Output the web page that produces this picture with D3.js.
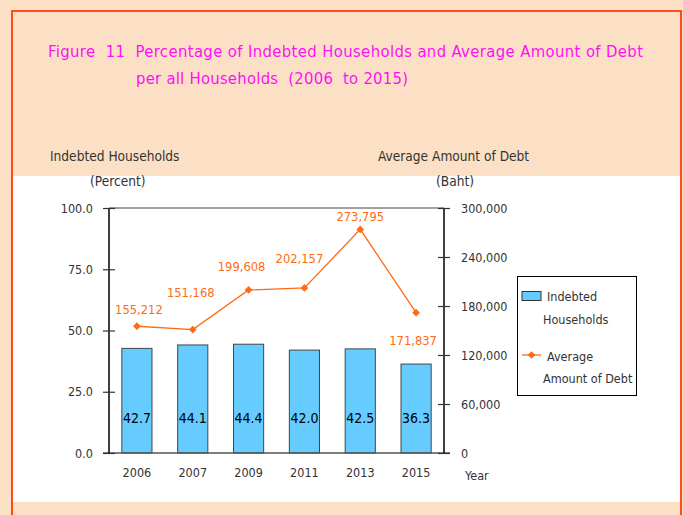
<!DOCTYPE html>
<html><head><meta charset="utf-8">
<script src="https://cdn.jsdelivr.net/npm/d3@7"></script>
<style>
html,body{margin:0;padding:0;background:#FBE0C5;}
svg{display:block;}
text{font-family:"DejaVu Sans Condensed","DejaVu Sans",sans-serif;white-space:pre;}
</style></head>
<body>
<svg id="c" width="683" height="515"></svg>
<script>
const years = ["2006","2007","2009","2011","2013","2015"];
const households = [42.7, 44.1, 44.4, 42.0, 42.5, 36.3];
const debt = [155212, 151168, 199608, 202157, 273795, 171837];
const leftTicks = [0, 25, 50, 75, 100];
const rightTicks = [0, 60000, 120000, 180000, 240000, 300000];
const titleLines = ["Figure  11  Percentage of Indebted Households and Average Amount of Debt",
                    "per all Households  (2006  to 2015)"];
// label placement offsets (dx, dy) for the debt labels, relative to their point
const debtLabelOffsets = [[2,-17],[-2,-37],[-7,-23],[-5,-29],[0,-13],[-3,28]];

const svg = d3.select("#c");
// backgrounds
svg.append("rect").attr("x",0).attr("y",0).attr("width",683).attr("height",515).attr("fill","#FBE0C5");
svg.append("rect").attr("x",13).attr("y",176).attr("width",667).attr("height",326).attr("fill","#FFFFFF");
svg.append("rect").attr("x",12).attr("y",11).attr("width",669).attr("height",520)
  .attr("fill","none").attr("stroke","#FF4A1A").attr("stroke-width",2);

// title
svg.append("text").attr("x",48).attr("y",57).attr("fill","#FF10F0").attr("font-size",16.5)
  .attr("textLength",595).attr("lengthAdjust","spacing").text(titleLines[0]);
svg.append("text").attr("x",136).attr("y",84).attr("fill","#FF10F0").attr("font-size",16.5)
  .attr("textLength",272).attr("lengthAdjust","spacing").text(titleLines[1]);

const L = 109, R = 444, T = 208, B = 453;
const x = d3.scaleBand().domain(years).range([L, R]).padding(0);
const yL = d3.scaleLinear().domain([0,100]).range([B, T]);
const yR = d3.scaleLinear().domain([0,300000]).range([B, T]);
const barW = x.bandwidth()*0.54;

// top frame line
svg.append("line").attr("x1",L).attr("x2",R).attr("y1",T).attr("y2",T).attr("stroke","#444").attr("stroke-width",1.2);

// bars
svg.selectAll("rect.bar").data(households).join("rect").attr("class","bar")
  .attr("x",(d,i)=>x(years[i])+x.bandwidth()/2-barW/2)
  .attr("y",d=>yL(d)).attr("width",barW).attr("height",d=>B-yL(d))
  .attr("fill","#66CCFF").attr("stroke","#444").attr("stroke-width",1);

svg.append("line").attr("x1",103).attr("x2",450).attr("y1",B).attr("y2",B).attr("stroke","#555").attr("stroke-width",1.5);

// left axis
const axL = d3.axisLeft(yL).tickValues(leftTicks).tickFormat(d3.format(".1f")).tickSize(6).tickPadding(10);
const gL = svg.append("g").attr("transform",`translate(${L},0)`).call(axL);
gL.select(".domain").attr("stroke","#000").attr("stroke-width",1.5).attr("d",`M0,${T}V${B}`);
gL.selectAll(".tick line").attr("x1",-6).attr("x2",6).attr("stroke","#333").attr("stroke-width",1.2);
gL.selectAll(".tick text").attr("font-size",12.5).attr("fill","#333").attr("font-family",null);

// right axis
const axR = d3.axisRight(yR).tickValues(rightTicks).tickFormat(d3.format(",")).tickSize(6).tickPadding(11);
const gR = svg.append("g").attr("transform",`translate(${R},0)`).call(axR);
gR.select(".domain").attr("stroke","#000").attr("stroke-width",1.5).attr("d",`M0,${T}V${B}`);
gR.selectAll(".tick line").attr("x1",-6).attr("x2",6).attr("stroke","#333").attr("stroke-width",1.2);
gR.selectAll(".tick text").attr("font-size",12.5).attr("fill","#333").attr("font-family",null);

// x axis labels
const axX = d3.axisBottom(x).tickSize(0).tickPadding(15);
const gX = svg.append("g").attr("transform",`translate(0,${B})`).call(axX);
gX.select(".domain").remove();
gX.selectAll(".tick text").attr("font-size",12.5).attr("fill","#333").attr("font-family",null);
svg.append("text").attr("x",465).attr("y",480).attr("font-size",12.5).attr("fill","#333").text("Year");

// bar value labels
svg.selectAll("text.bl").data(households).join("text").attr("class","bl")
  .attr("x",(d,i)=>x(years[i])+x.bandwidth()/2).attr("y",yL(12.2))
  .attr("text-anchor","middle").attr("font-size",14).attr("fill","#000")
  .text(d=>d.toFixed(1));

// debt line
const diamond = d3.symbol(d3.symbolSquare,30)();
const pts = debt.map((d,i)=>[x(years[i])+x.bandwidth()/2, yR(d)]);
svg.append("path").attr("d",d3.line()(pts)).attr("fill","none").attr("stroke","#FF6A13").attr("stroke-width",1.3);
svg.selectAll("path.mk").data(pts).join("path").attr("class","mk")
  .attr("transform",d=>`translate(${d[0]},${d[1]}) rotate(45)`)
  .attr("d",diamond).attr("fill","#FF6A13");
svg.selectAll("text.dl").data(debt).join("text").attr("class","dl")
  .attr("x",(d,i)=>pts[i][0]+debtLabelOffsets[i][0])
  .attr("y",(d,i)=>pts[i][1]+debtLabelOffsets[i][1]+4.5)
  .attr("text-anchor","middle").attr("font-size",12.8).attr("fill","#FF6A13")
  .text(d=>d3.format(",")(d));

// axis titles
svg.append("text").attr("x",50).attr("y",161).attr("font-size",13.6).attr("fill","#333").text("Indebted Households");
svg.append("text").attr("x",90).attr("y",186).attr("font-size",13.6).attr("fill","#333").text("(Percent)");
svg.append("text").attr("x",378).attr("y",161).attr("font-size",13.6).attr("fill","#333").text("Average Amount of Debt");
svg.append("text").attr("x",436).attr("y",186).attr("font-size",13.6).attr("fill","#333").text("(Baht)");

// legend
const lg = svg.append("g");
lg.append("rect").attr("x",517.5).attr("y",276.5).attr("width",119).attr("height",119).attr("fill","#fff").attr("stroke","#000").attr("stroke-width",1);
lg.append("rect").attr("x",522).attr("y",291.5).attr("width",19).attr("height",9).attr("fill","#66CCFF").attr("stroke","#333");
lg.append("text").attr("x",547).attr("y",300.5).attr("font-size",12.5).attr("fill","#333").text("Indebted");
lg.append("text").attr("x",543).attr("y",324).attr("font-size",12.5).attr("fill","#333").text("Households");
lg.append("line").attr("x1",522).attr("x2",541).attr("y1",355).attr("y2",355).attr("stroke","#FF6A13").attr("stroke-width",1.3);
lg.append("path").attr("transform","translate(531.5,355) rotate(45)").attr("d",diamond).attr("fill","#FF6A13");
lg.append("text").attr("x",547).attr("y",361).attr("font-size",12.5).attr("fill","#333").text("Average");
lg.append("text").attr("x",543).attr("y",383).attr("font-size",12.5).attr("fill","#333").text("Amount of Debt");
</script>
</body></html>
